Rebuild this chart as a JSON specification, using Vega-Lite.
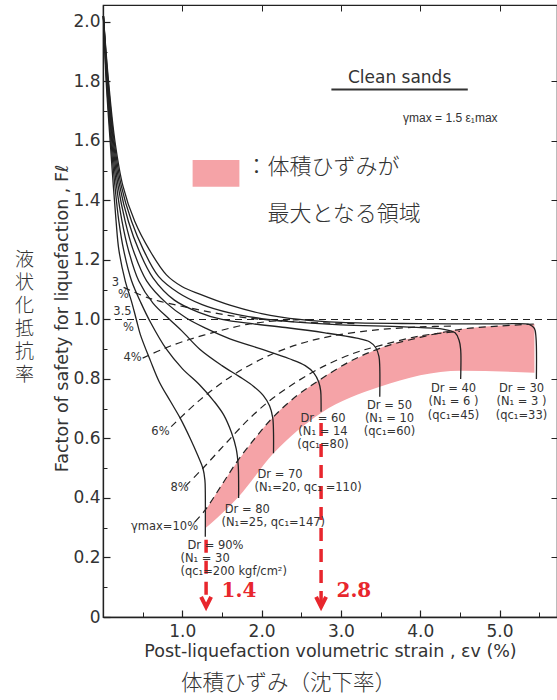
{
"$schema": "https://vega.github.io/schema/vega-lite/v6.json",
"width": 454, "height": 612,
"autosize": {"type": "none"},
"padding": {"left": 103, "top": 5, "right": 0, "bottom": 83},
"background": "white",
"config": {"view": {"stroke": "#222", "strokeWidth": 1.2}, "axis": {"grid": false, "domainColor": "#222", "tickColor": "#222", "labelColor": "#333", "titleColor": "#333", "labelFont": "DejaVu Sans", "titleFont": "DejaVu Sans", "titleFontWeight": "normal"}},
"datasets": {
"band": [
{"x":1.29,"hi":0.357,"lo":0.298},{"x":1.71,"hi":0.528,"lo":0.404},{"x":2.15,"hi":0.673,"lo":0.55},{"x":2.75,"hi":0.80,"lo":0.686},{"x":3.49,"hi":0.903,"lo":0.774},{"x":4.51,"hi":0.967,"lo":0.828},{"x":5.44,"hi":0.985,"lo":0.821}],
"dr": [
{"c":"90","i":0,"x":0.005,"f":2.02},{"c":"90","i":1,"x":0.04,"f":1.8},{"c":"90","i":2,"x":0.09,"f":1.6},{"c":"90","i":3,"x":0.13,"f":1.45},{"c":"90","i":4,"x":0.165,"f":1.33},{"c":"90","i":5,"x":0.2,"f":1.234},{"c":"90","i":6,"x":0.28,"f":1.13},{"c":"90","i":7,"x":0.36,"f":1.06},{"c":"90","i":8,"x":0.42,"f":1.0},{"c":"90","i":9,"x":0.47,"f":0.95},{"c":"90","i":10,"x":0.6,"f":0.86},{"c":"90","i":11,"x":0.71,"f":0.79},{"c":"90","i":12,"x":0.85,"f":0.725},{"c":"90","i":13,"x":0.97,"f":0.67},{"c":"90","i":14,"x":1.1,"f":0.6},{"c":"90","i":15,"x":1.2,"f":0.54},{"c":"90","i":16,"x":1.26,"f":0.5},{"c":"90","i":17,"x":1.285,"f":0.46},{"c":"90","i":18,"x":1.29,"f":0.42},{"c":"90","i":19,"x":1.29,"f":0.27},
{"c":"80","i":0,"x":0.005,"f":2.02},{"c":"80","i":1,"x":0.045,"f":1.8},{"c":"80","i":2,"x":0.1,"f":1.6},{"c":"80","i":3,"x":0.15,"f":1.45},{"c":"80","i":4,"x":0.2,"f":1.33},{"c":"80","i":5,"x":0.26,"f":1.234},{"c":"80","i":6,"x":0.36,"f":1.13},{"c":"80","i":7,"x":0.48,"f":1.055},{"c":"80","i":8,"x":0.6,"f":0.99},{"c":"80","i":9,"x":0.8,"f":0.9},{"c":"80","i":10,"x":1.0,"f":0.835},{"c":"80","i":11,"x":1.22,"f":0.78},{"c":"80","i":12,"x":1.4,"f":0.725},{"c":"80","i":13,"x":1.52,"f":0.68},{"c":"80","i":14,"x":1.62,"f":0.62},{"c":"80","i":15,"x":1.68,"f":0.565},{"c":"80","i":16,"x":1.705,"f":0.51},{"c":"80","i":17,"x":1.71,"f":0.46},{"c":"80","i":18,"x":1.71,"f":0.40},
{"c":"70","i":0,"x":0.005,"f":2.02},{"c":"70","i":1,"x":0.05,"f":1.8},{"c":"70","i":2,"x":0.11,"f":1.6},{"c":"70","i":3,"x":0.17,"f":1.45},{"c":"70","i":4,"x":0.24,"f":1.33},{"c":"70","i":5,"x":0.32,"f":1.234},{"c":"70","i":6,"x":0.45,"f":1.13},{"c":"70","i":7,"x":0.63,"f":1.055},{"c":"70","i":8,"x":0.84,"f":1.0},{"c":"70","i":9,"x":1.0,"f":0.96},{"c":"70","i":10,"x":1.22,"f":0.9},{"c":"70","i":11,"x":1.5,"f":0.845},{"c":"70","i":12,"x":1.72,"f":0.808},{"c":"70","i":13,"x":1.9,"f":0.775},{"c":"70","i":14,"x":2.02,"f":0.745},{"c":"70","i":15,"x":2.1,"f":0.71},{"c":"70","i":16,"x":2.14,"f":0.67},{"c":"70","i":17,"x":2.15,"f":0.62},{"c":"70","i":18,"x":2.15,"f":0.55},
{"c":"60","i":0,"x":0.005,"f":2.02},{"c":"60","i":1,"x":0.055,"f":1.8},{"c":"60","i":2,"x":0.12,"f":1.6},{"c":"60","i":3,"x":0.19,"f":1.45},{"c":"60","i":4,"x":0.28,"f":1.33},{"c":"60","i":5,"x":0.38,"f":1.234},{"c":"60","i":6,"x":0.55,"f":1.13},{"c":"60","i":7,"x":0.8,"f":1.055},{"c":"60","i":8,"x":1.05,"f":1.005},{"c":"60","i":9,"x":1.3,"f":0.97},{"c":"60","i":10,"x":1.6,"f":0.935},{"c":"60","i":11,"x":2.0,"f":0.9},{"c":"60","i":12,"x":2.35,"f":0.868},{"c":"60","i":13,"x":2.55,"f":0.845},{"c":"60","i":14,"x":2.66,"f":0.82},{"c":"60","i":15,"x":2.72,"f":0.79},{"c":"60","i":16,"x":2.745,"f":0.76},{"c":"60","i":17,"x":2.75,"f":0.72},{"c":"60","i":18,"x":2.75,"f":0.69},
{"c":"50","i":0,"x":0.005,"f":2.02},{"c":"50","i":1,"x":0.06,"f":1.8},{"c":"50","i":2,"x":0.13,"f":1.6},{"c":"50","i":3,"x":0.21,"f":1.45},{"c":"50","i":4,"x":0.32,"f":1.33},{"c":"50","i":5,"x":0.45,"f":1.234},{"c":"50","i":6,"x":0.63,"f":1.14},{"c":"50","i":7,"x":0.9,"f":1.065},{"c":"50","i":8,"x":1.2,"f":1.025},{"c":"50","i":9,"x":1.5,"f":1.0},{"c":"50","i":10,"x":1.9,"f":0.985},{"c":"50","i":11,"x":2.3,"f":0.973},{"c":"50","i":12,"x":2.8,"f":0.955},{"c":"50","i":13,"x":3.2,"f":0.937},{"c":"50","i":14,"x":3.36,"f":0.925},{"c":"50","i":15,"x":3.44,"f":0.905},{"c":"50","i":16,"x":3.48,"f":0.875},{"c":"50","i":17,"x":3.49,"f":0.84},{"c":"50","i":18,"x":3.49,"f":0.74},
{"c":"40","i":0,"x":0.005,"f":2.02},{"c":"40","i":1,"x":0.065,"f":1.8},{"c":"40","i":2,"x":0.14,"f":1.6},{"c":"40","i":3,"x":0.23,"f":1.45},{"c":"40","i":4,"x":0.36,"f":1.33},{"c":"40","i":5,"x":0.51,"f":1.234},{"c":"40","i":6,"x":0.7,"f":1.145},{"c":"40","i":7,"x":0.95,"f":1.09},{"c":"40","i":8,"x":1.25,"f":1.05},{"c":"40","i":9,"x":1.6,"f":1.022},{"c":"40","i":10,"x":2.0,"f":1.003},{"c":"40","i":11,"x":2.4,"f":0.992},{"c":"40","i":12,"x":3.0,"f":0.982},{"c":"40","i":13,"x":3.8,"f":0.975},{"c":"40","i":14,"x":4.3,"f":0.967},{"c":"40","i":15,"x":4.44,"f":0.955},{"c":"40","i":16,"x":4.49,"f":0.93},{"c":"40","i":17,"x":4.51,"f":0.9},{"c":"40","i":18,"x":4.51,"f":0.80},
{"c":"30","i":0,"x":0.005,"f":2.02},{"c":"30","i":1,"x":0.07,"f":1.8},{"c":"30","i":2,"x":0.15,"f":1.6},{"c":"30","i":3,"x":0.25,"f":1.45},{"c":"30","i":4,"x":0.4,"f":1.33},{"c":"30","i":5,"x":0.585,"f":1.234},{"c":"30","i":6,"x":0.8,"f":1.15},{"c":"30","i":7,"x":1.0,"f":1.11},{"c":"30","i":8,"x":1.22,"f":1.085},{"c":"30","i":9,"x":1.6,"f":1.048},{"c":"30","i":10,"x":2.0,"f":1.02},{"c":"30","i":11,"x":2.48,"f":1.0},{"c":"30","i":12,"x":3.0,"f":0.99},{"c":"30","i":13,"x":4.0,"f":0.986},{"c":"30","i":14,"x":5.0,"f":0.985},{"c":"30","i":15,"x":5.38,"f":0.983},{"c":"30","i":16,"x":5.44,"f":0.97},{"c":"30","i":17,"x":5.46,"f":0.94},{"c":"30","i":18,"x":5.465,"f":0.80}],
"gm": [
{"c":"g1","i":0,"x":0,"f":1.0},{"c":"g1","i":1,"x":5.725,"f":1.0},
{"c":"g3","i":0,"x":0.26,"f":1.108},{"c":"g3","i":1,"x":0.6,"f":1.07},{"c":"g3","i":2,"x":1.09,"f":1.039},{"c":"g3","i":3,"x":1.6,"f":1.013},{"c":"g3","i":4,"x":2.1,"f":0.998},{"c":"g3","i":5,"x":2.6,"f":0.99},{"c":"g3","i":6,"x":3.2,"f":0.986},
{"c":"g4","i":0,"x":0.5,"f":0.87},{"c":"g4","i":1,"x":0.75,"f":0.9},{"c":"g4","i":2,"x":1.0,"f":0.925},{"c":"g4","i":3,"x":1.43,"f":0.959},{"c":"g4","i":4,"x":1.85,"f":0.985},{"c":"g4","i":5,"x":2.27,"f":0.997},{"c":"g4","i":6,"x":2.7,"f":1.0},
{"c":"g6","i":0,"x":0.86,"f":0.64},{"c":"g6","i":1,"x":1.22,"f":0.729},{"c":"g6","i":2,"x":1.64,"f":0.813},{"c":"g6","i":3,"x":2.06,"f":0.875},{"c":"g6","i":4,"x":2.48,"f":0.918},{"c":"g6","i":5,"x":2.9,"f":0.945},{"c":"g6","i":6,"x":3.45,"f":0.965},{"c":"g6","i":7,"x":4.0,"f":0.975},{"c":"g6","i":8,"x":4.45,"f":0.978},
{"c":"g8","i":0,"x":1.04,"f":0.44},{"c":"g8","i":1,"x":1.26,"f":0.5},{"c":"g8","i":2,"x":1.55,"f":0.584},{"c":"g8","i":3,"x":1.85,"f":0.668},{"c":"g8","i":4,"x":2.14,"f":0.735},{"c":"g8","i":5,"x":2.48,"f":0.797},{"c":"g8","i":6,"x":2.8,"f":0.845},{"c":"g8","i":7,"x":3.2,"f":0.89},{"c":"g8","i":8,"x":3.49,"f":0.912},{"c":"g8","i":9,"x":4.0,"f":0.945},{"c":"g8","i":10,"x":4.5,"f":0.96},
{"c":"g10","i":0,"x":1.16,"f":0.32},{"c":"g10","i":1,"x":1.29,"f":0.36},{"c":"g10","i":2,"x":1.5,"f":0.445},{"c":"g10","i":3,"x":1.71,"f":0.53},{"c":"g10","i":4,"x":1.93,"f":0.605},{"c":"g10","i":5,"x":2.15,"f":0.673},{"c":"g10","i":6,"x":2.45,"f":0.745},{"c":"g10","i":7,"x":2.75,"f":0.8},{"c":"g10","i":8,"x":3.1,"f":0.857},{"c":"g10","i":9,"x":3.49,"f":0.903},{"c":"g10","i":10,"x":4.0,"f":0.94},{"c":"g10","i":11,"x":4.51,"f":0.967},{"c":"g10","i":12,"x":5.0,"f":0.978},{"c":"g10","i":13,"x":5.44,"f":0.985}],
"red": [{"x":1.3,"y1":0.26,"y2":0.04},{"x":2.75,"y1":0.652,"y2":0.04}],
"redtip": [{"x":1.3,"y":0.034},{"x":2.75,"y":0.034}],
"redtxt": [{"x":1.495,"y":0.087,"t":"1.4"},{"x":2.944,"y":0.087,"t":"2.8"}],
"lbl_left": [
{"x":1.065,"y":0.238,"t":"Dr = 90%"},{"x":0.977,"y":0.194,"t":"(N₁ = 30"},{"x":0.977,"y":0.150,"t":"(qc₁=200 kgf/cm²)"},
{"x":1.535,"y":0.36,"t":"Dr = 80"},{"x":1.494,"y":0.316,"t":"(N₁=25, qc₁=147)"},
{"x":1.948,"y":0.477,"t":"Dr = 70"},{"x":1.91,"y":0.433,"t":"(N₁=20, qc₁ =110)"}],
"lbl_ctr": [
{"x":2.774,"y":0.666,"t":"Dr = 60"},{"x":2.774,"y":0.622,"t":"(N₁ = 14"},{"x":2.774,"y":0.578,"t":"(qc₁=80)"},
{"x":3.613,"y":0.709,"t":"Dr = 50"},{"x":3.613,"y":0.665,"t":"(N₁ = 10"},{"x":3.613,"y":0.621,"t":"(qc₁=60)"},
{"x":4.42,"y":0.765,"t":"Dr = 40"},{"x":4.42,"y":0.721,"t":"(N₁ = 6 )"},{"x":4.42,"y":0.677,"t":"(qc₁=45)"},
{"x":5.277,"y":0.765,"t":"Dr = 30"},{"x":5.277,"y":0.721,"t":"(N₁ = 3 )"},{"x":5.277,"y":0.677,"t":"(qc₁=33)"}],
"lbl_g": [
{"x":0.158,"y":1.121,"t":"3"},{"x":0.258,"y":1.082,"t":"%"},
{"x":0.246,"y":1.024,"t":"3.5"},{"x":0.322,"y":0.973,"t":"%"},
{"x":0.372,"y":0.871,"t":"4%"},{"x":0.725,"y":0.622,"t":"6%"},{"x":0.965,"y":0.434,"t":"8%"},{"x":0.776,"y":0.303,"t":"γmax=10%"}],
"clean": [{"x":3.74,"y":1.812,"t":"Clean sands"}],
"gam": [{"x":4.38,"y":1.677,"t":"γmax = 1.5 ε₁max"}],
"uline": [{"x1":2.88,"x2":4.6,"y":1.773}],
"legrect": [{"x1":1.13,"x2":1.72,"y1":1.446,"y2":1.536}],
"legtxt": [{"x":1.797,"y":1.513,"t":"：体積ひずみが"},{"x":2.074,"y":1.355,"t":"最大となる領域"}]
},
"layer": [
{"data": {"name": "band"},
 "mark": {"type": "area", "interpolate": "monotone", "color": "#f5a3a7", "opacity": 1},
 "encoding": {
  "x": {"field": "x", "type": "quantitative", "scale": {"domain": [0, 5.725], "nice": false, "zero": false},
        "axis": {"orient": "bottom", "labels": false, "ticks": false, "domain": false, "title": "体積ひずみ（沈下率）", "titleFont": "Noto Sans CJK JP", "titleFontSize": 21.5, "titleFontWeight": 300, "titleColor": "#333", "titleX": 185, "titleY": 66, "titleBaseline": "middle", "titleAlign": "center", "titleAngle": 0}},
  "y": {"field": "hi", "type": "quantitative", "scale": {"domain": [0, 2.057], "nice": false, "zero": false},
        "axis": {"orient": "left", "labels": false, "ticks": false, "domain": false, "title": ["液","状","化","抵","抗","率"], "titleAngle": 0, "titleFont": "Noto Sans CJK JP", "titleFontSize": 19, "titleFontWeight": 300, "titleColor": "#333", "titleLineHeight": 23, "titleX": -79, "titleY": 245, "titleAlign": "center", "titleBaseline": "top"}},
  "y2": {"field": "lo"}}},
{"data": {"name": "legrect"},
 "mark": {"type": "rect", "color": "#f5a3a7"},
 "encoding": {"x": {"field": "x1", "type": "quantitative", "axis": null}, "x2": {"field": "x2"}, "y": {"field": "y1", "type": "quantitative", "axis": null}, "y2": {"field": "y2"}}},
{"data": {"name": "dr"},
 "mark": {"type": "line", "interpolate": "catmull-rom", "color": "#222", "strokeWidth": 1.3},
 "encoding": {
  "x": {"field": "x", "type": "quantitative",
        "axis": {"orient": "bottom", "values": [1, 2, 3, 4, 5], "format": ".1f", "tickSize": -7, "tickWidth": 1.2, "labelFontSize": 17, "labelPadding": 13, "domainWidth": 1.3, "title": "Post-liquefaction volumetric strain , εv (%)", "titleFontSize": 17.5, "titleX": 227, "titleY": 34, "titleBaseline": "middle", "titleAlign": "center"}},
  "y": {"field": "f", "type": "quantitative",
        "axis": {"orient": "left", "values": [0, 0.2, 0.4, 0.6, 0.8, 1, 1.2, 1.4, 1.6, 1.8, 2], "labelExpr": "datum.value == 0 ? '0' : format(datum.value, '.1f')", "tickSize": -7, "tickWidth": 1.2, "labelFontSize": 17, "labelPadding": 10, "domainWidth": 1.3, "title": "Factor of safety for liquefaction , Fℓ", "titleFontSize": 17.5, "titleX": -41, "titleY": 313, "titleBaseline": "middle", "titleAlign": "center", "titleAngle": 270}},
  "detail": {"field": "c"},
  "order": {"field": "i", "type": "quantitative"}}},
{"data": {"name": "gm"},
 "mark": {"type": "line", "interpolate": "catmull-rom", "color": "#222", "strokeWidth": 1.2, "strokeDash": [7, 5]},
 "encoding": {
  "x": {"field": "x", "type": "quantitative", "axis": {"orient": "bottom", "values": [0.5, 1.5, 2.5, 3.5, 4.5, 5.5], "labels": false, "domain": false, "tickSize": -5, "title": null}},
  "y": {"field": "f", "type": "quantitative", "axis": {"orient": "left", "values": [0.1, 0.3, 0.5, 0.7, 0.9, 1.1, 1.3, 1.5, 1.7, 1.9], "labels": false, "domain": false, "tickSize": -4, "title": null}},
  "detail": {"field": "c"},
  "order": {"field": "i", "type": "quantitative"}}},
{"data": {"name": "uline"},
 "mark": {"type": "rule", "color": "#333", "strokeWidth": 2},
 "encoding": {"x": {"field": "x1", "type": "quantitative", "axis": null}, "x2": {"field": "x2"}, "y": {"field": "y", "type": "quantitative", "axis": null}}},
{"data": {"name": "red"},
 "mark": {"type": "rule", "color": "#e8262d", "strokeWidth": 3.5, "strokeDash": [13, 8]},
 "encoding": {
  "x": {"field": "x", "type": "quantitative", "axis": {"orient": "top", "values": [1, 2, 3, 4, 5], "labels": false, "domain": false, "tickSize": -6, "title": null}},
  "y": {"field": "y1", "type": "quantitative", "axis": {"orient": "right", "values": [0.2, 0.4, 0.6, 0.8, 1, 1.2, 1.4, 1.6, 1.8], "labels": false, "domain": false, "tickSize": -6, "title": null}},
  "y2": {"field": "y2"}}},
{"data": {"name": "redtip"},
 "mark": {"type": "point", "shape": "M-1,-2L0,0L1,-2", "filled": false, "stroke": "#e8262d", "strokeWidth": 4, "size": 100, "opacity": 1},
 "encoding": {"x": {"field": "x", "type": "quantitative", "axis": null}, "y": {"field": "y", "type": "quantitative", "axis": null}}},
{"data": {"name": "redtxt"},
 "mark": {"type": "text", "font": "DejaVu Serif", "fontWeight": "bold", "fontSize": 20, "color": "#e8262d", "align": "left", "baseline": "middle"},
 "encoding": {"x": {"field": "x", "type": "quantitative", "axis": null}, "y": {"field": "y", "type": "quantitative", "axis": null}, "text": {"field": "t"}}},
{"data": {"name": "lbl_left"},
 "mark": {"type": "text", "font": "DejaVu Sans", "fontSize": 11.5, "color": "#333", "align": "left", "baseline": "middle"},
 "encoding": {"x": {"field": "x", "type": "quantitative", "axis": null}, "y": {"field": "y", "type": "quantitative", "axis": null}, "text": {"field": "t"}}},
{"data": {"name": "lbl_ctr"},
 "mark": {"type": "text", "font": "DejaVu Sans", "fontSize": 11.5, "color": "#333", "align": "center", "baseline": "middle"},
 "encoding": {"x": {"field": "x", "type": "quantitative", "axis": null}, "y": {"field": "y", "type": "quantitative", "axis": null}, "text": {"field": "t"}}},
{"data": {"name": "lbl_g"},
 "mark": {"type": "text", "font": "DejaVu Sans", "fontSize": 11.5, "color": "#333", "align": "center", "baseline": "middle"},
 "encoding": {"x": {"field": "x", "type": "quantitative", "axis": null}, "y": {"field": "y", "type": "quantitative", "axis": null}, "text": {"field": "t"}}},
{"data": {"name": "clean"},
 "mark": {"type": "text", "font": "DejaVu Sans", "fontSize": 17, "color": "#333", "align": "center", "baseline": "middle"},
 "encoding": {"x": {"field": "x", "type": "quantitative", "axis": null}, "y": {"field": "y", "type": "quantitative", "axis": null}, "text": {"field": "t"}}},
{"data": {"name": "gam"},
 "mark": {"type": "text", "font": "Liberation Sans", "fontSize": 12, "color": "#333", "align": "center", "baseline": "middle"},
 "encoding": {"x": {"field": "x", "type": "quantitative", "axis": null}, "y": {"field": "y", "type": "quantitative", "axis": null}, "text": {"field": "t"}}},
{"data": {"name": "legtxt"},
 "mark": {"type": "text", "font": "Noto Sans CJK JP", "fontSize": 22, "fontWeight": 300, "color": "#333", "align": "left", "baseline": "middle"},
 "encoding": {"x": {"field": "x", "type": "quantitative", "axis": null}, "y": {"field": "y", "type": "quantitative", "axis": null}, "text": {"field": "t"}}}
],
"resolve": {"axis": {"x": "independent", "y": "independent"}}
}
